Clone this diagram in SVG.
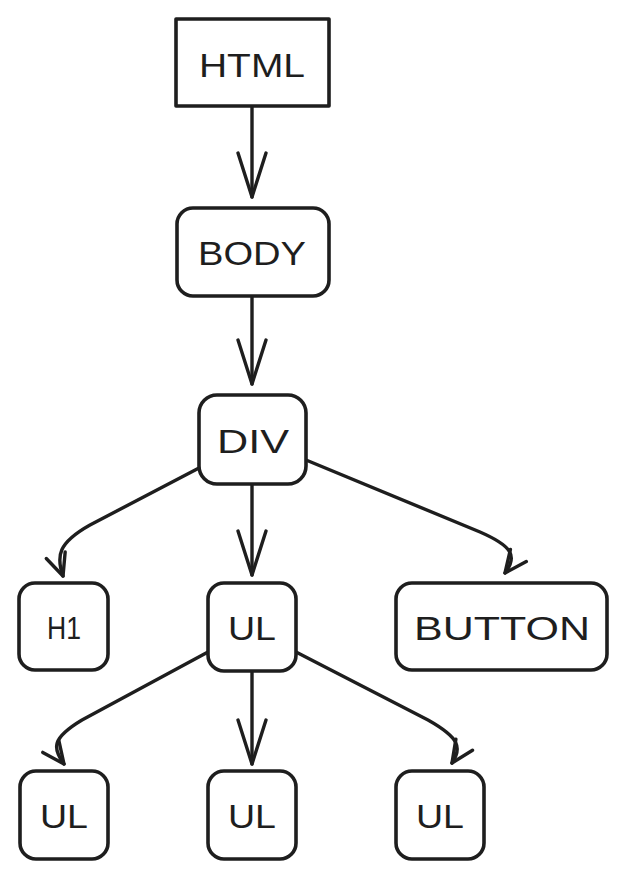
<svg xmlns="http://www.w3.org/2000/svg" width="628" height="880" viewBox="0 0 628 880">
<style>
.box{fill:#fff;stroke:#1e1e1e;stroke-width:3.6;stroke-linejoin:round}
.lbl{font-family:"Liberation Sans","DejaVu Sans",sans-serif;font-size:34px;fill:#1e1e1e;text-anchor:middle}
.con{fill:none;stroke:#1e1e1e;stroke-width:3.4;stroke-linecap:round;stroke-linejoin:round}
</style>
<defs>
<marker id="big" markerUnits="userSpaceOnUse" viewBox="-50 -20 55 40" refX="0" refY="0" markerWidth="55" markerHeight="40" orient="auto" overflow="visible">
<path d="M-44,-14 L0,0 L-44,14" fill="none" stroke="#1e1e1e" stroke-width="3.4" stroke-linecap="round" stroke-linejoin="round"/>
</marker>
<marker id="small" markerUnits="userSpaceOnUse" viewBox="-28 -14 32 28" refX="0" refY="0" markerWidth="32" markerHeight="28" orient="auto" overflow="visible">
<path d="M-22,-10 L0,0 L-22,10" fill="none" stroke="#1e1e1e" stroke-width="3.4" stroke-linecap="round" stroke-linejoin="round"/>
</marker>
</defs>
<rect width="628" height="880" fill="#fff"/>
<g id="connectors">
<path class="con" d="M252,107 L252,197" marker-end="url(#big)"/>
<path class="con" d="M252,297 L252,384" marker-end="url(#big)"/>
<path class="con" d="M199,468 L90,525 C58,543 56,556 63,576" marker-end="url(#small)"/>
<path class="con" d="M252,485 L252,575" marker-end="url(#big)"/>
<path class="con" d="M306,460 L480,532 C512,546 518,556 505,573" marker-end="url(#small)"/>
<path class="con" d="M208,652 L82,720 C52,738 52,748 64,764" marker-end="url(#small)"/>
<path class="con" d="M252,671 L252,764" marker-end="url(#big)"/>
<path class="con" d="M296,652 L428,720 C460,738 462,748 452,763" marker-end="url(#small)"/>
</g>
<g id="html">
<rect class="box" x="176" y="19" width="153" height="87"/>
<text class="lbl" x="252" y="77" textLength="106" lengthAdjust="spacingAndGlyphs">HTML</text>
</g>
<g id="body">
<rect class="box" x="177" y="208" width="152" height="88" rx="16"/>
<text class="lbl" x="252" y="265" textLength="108" lengthAdjust="spacingAndGlyphs">BODY</text>
</g>
<g id="div">
<rect class="box" x="199" y="395" width="107" height="89" rx="18"/>
<text class="lbl" x="253" y="453" textLength="72" lengthAdjust="spacingAndGlyphs">DIV</text>
</g>
<g id="h1">
<rect class="box" x="19" y="583" width="89" height="87" rx="16"/>
<text class="lbl" x="64" y="639" style="font-size:31px" textLength="34" lengthAdjust="spacingAndGlyphs">H1</text>
</g>
<g id="ul1">
<rect class="box" x="208" y="583" width="88" height="88" rx="16"/>
<text class="lbl" x="252" y="640" textLength="48" lengthAdjust="spacingAndGlyphs">UL</text>
</g>
<g id="button">
<rect class="box" x="396" y="583" width="211" height="87" rx="16"/>
<text class="lbl" x="502" y="640" textLength="176" lengthAdjust="spacingAndGlyphs">BUTTON</text>
</g>
<g id="ul2">
<rect class="box" x="20" y="771" width="88" height="88" rx="16"/>
<text class="lbl" x="64" y="828" textLength="48" lengthAdjust="spacingAndGlyphs">UL</text>
</g>
<g id="ul3">
<rect class="box" x="208" y="771" width="88" height="88" rx="16"/>
<text class="lbl" x="252" y="828" textLength="48" lengthAdjust="spacingAndGlyphs">UL</text>
</g>
<g id="ul4">
<rect class="box" x="396" y="771" width="88" height="88" rx="16"/>
<text class="lbl" x="440" y="828" textLength="48" lengthAdjust="spacingAndGlyphs">UL</text>
</g>
</svg>
